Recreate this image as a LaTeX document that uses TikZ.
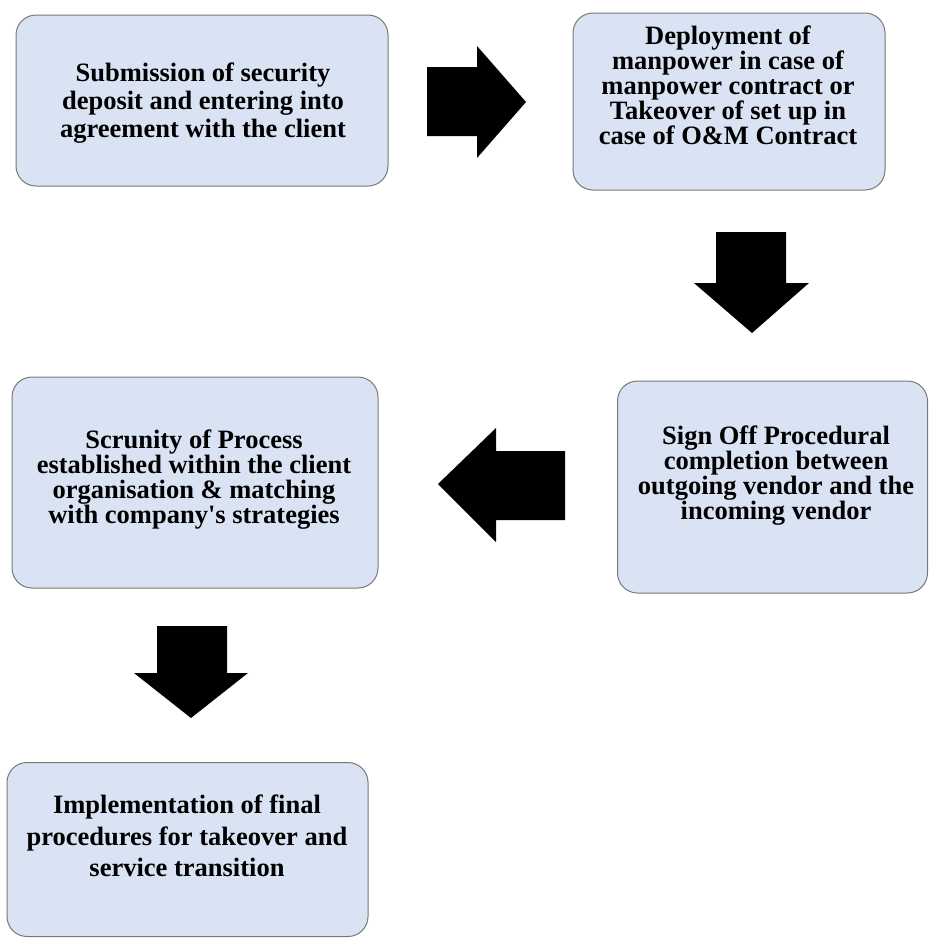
\documentclass[tikz,border=0pt]{standalone}
\usepackage{fontspec}
\setmainfont{Liberation Serif}[Ligatures=TeXOff]
\definecolor{boxfill}{RGB}{218,227,243}
\definecolor{boxline}{RGB}{120,120,120}
\begin{document}
\begin{tikzpicture}[x=1pt,y=-1pt,
  stepbox/.style={draw=boxline, fill=boxfill, rounded corners=20pt, line width=1pt, inner sep=0pt},
  steptext/.style={align=center, inner sep=0pt, text=black},
  blockarrow/.style={fill=black, draw=none}]
\useasboundingbox (0,0) rectangle (929,938);

% process boxes
\node[stepbox, minimum width=372pt, minimum height=171pt] (b1) at (202,100.5) {};
\node[stepbox, minimum width=312pt, minimum height=177pt] (b2) at (729,101.5) {};
\node[stepbox, minimum width=310pt, minimum height=212pt] (b3) at (772.5,487) {};
\node[stepbox, minimum width=366pt, minimum height=211pt] (b4) at (195,482.5) {};
\node[stepbox, minimum width=361pt, minimum height=174pt] (b5) at (187.5,849.5) {};

% box texts
\node[steptext, font=\bfseries\fontsize{26.5}{28}\selectfont] (t1) at (203,103)
  {Submission of security\\deposit and entering into\\agreement with the client};
\node[steptext, font=\bfseries\fontsize{26.5}{25}\selectfont] (t2) at (728,85)
  {Deployment of\\manpower in case of\\manpower contract or\\Takeover of set up in\\case of O\&M Contract};
\node[steptext, font=\bfseries\fontsize{26.5}{25}\selectfont] (t3) at (776,475.5)
  {Sign Off Procedural\\completion between\\outgoing vendor and the\\incoming vendor};
\node[steptext, font=\bfseries\fontsize{26.5}{25}\selectfont] (t4) at (194,479.5)
  {Scrunity of Process\\established within the client\\organisation \& matching\\with company's strategies};
\node[steptext, font=\bfseries\fontsize{26.5}{31.7}\selectfont] (t5) at (187,836)
  {Implementation of final\\procedures for takeover and\\service transition};

% block arrows between the steps
\fill[blockarrow] (427,67) -- (477,67) -- (477,46) -- (526,102) -- (477,158) -- (477,136) -- (427,136) -- cycle;
\fill[blockarrow] (716,232) -- (786,232) -- (786,283) -- (809,283) -- (752,333) -- (694,283) -- (716,283) -- cycle;
\fill[blockarrow] (565,451) -- (565,520) -- (496,520) -- (496,542) -- (438,484) -- (496,428) -- (496,451) -- cycle;
\fill[blockarrow] (157,626) -- (227,626) -- (227,673) -- (248,673) -- (191,718) -- (134,673) -- (157,673) -- cycle;
\end{tikzpicture}
\end{document}
